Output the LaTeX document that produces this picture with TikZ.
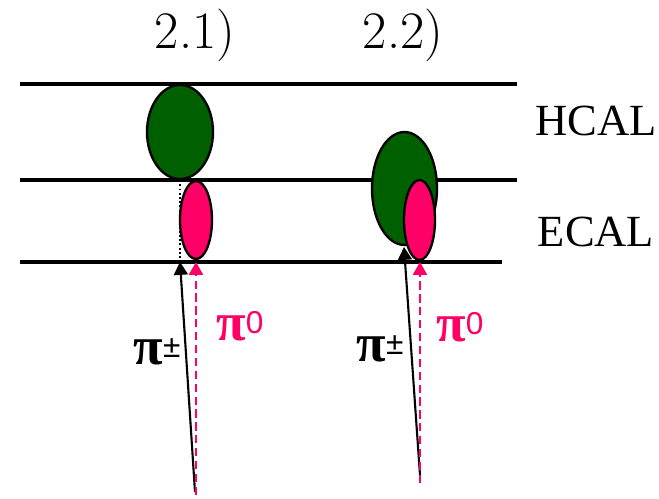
\documentclass[tikz,border=0pt]{standalone}
\usepackage{fontspec}
\newfontfamily\calfont{Liberation Serif}
\newfontfamily\supfont{Liberation Sans}
\usetikzlibrary{arrows.meta,shapes.geometric}
\definecolor{hadgreen}{RGB}{0,96,0}
\definecolor{empink}{RGB}{255,0,102}
\newcommand{\pilabel}[1]{{\calfont\bfseries\fontsize{46}{46}\selectfont π}\raisebox{0.62em}{\supfont\fontsize{27}{27}\selectfont #1}}

\begin{document}
\begin{tikzpicture}[x=0.03cm, y=-0.03cm,
  layer/.style={line width=3pt},
  shower/.style={draw, ellipse, line width=2pt, inner sep=0pt},
  track/.style={line width=1.8pt, -{Triangle[length=11pt,width=12pt]}},
  calname/.style={font=\calfont\fontsize{38}{42}\selectfont},
  casename/.style={font=\fontsize{45}{48}\selectfont}]
  \useasboundingbox (0,0) rectangle (659,499);

  % calorimeter boundaries
  \draw[layer] (20,84) -- (517,84);
  \draw[layer] (20,180) -- (517,180);
  \draw[layer] (20,262) -- (502,262);
  \node[calname] (hcal) at (596,121) {HCAL};
  \node[calname] (ecal) at (596,232) {ECAL};

  % case headers
  \node[casename] (case1) at (195,35) {2.1)};
  \node[casename] (case2) at (403,35) {2.2)};

  % case 2.1: separated showers
  \node[shower, fill=hadgreen, minimum width=1.98cm, minimum height=2.82cm] (had1) at (180,132) {};
  \node[shower, fill=empink, minimum width=0.96cm, minimum height=2.34cm] (em1) at (196,220) {};
  \draw[line width=1.6pt, dotted] (had1.south) -- (180,262);

  % case 2.2: overlapping showers
  \node[shower, fill=hadgreen, minimum width=1.95cm, minimum height=3.39cm] (had2) at (404.5,188.5) {};
  \node[shower, fill=empink, minimum width=0.93cm, minimum height=2.4cm] (em2) at (419.5,220) {};

  % incoming particles
  \coordinate (pipm1 start) at (195,492);
  \coordinate (pipm1 end) at (180,262);
  \coordinate (pizero1 start) at (196,495);
  \coordinate (pizero1 end) at (196,262);
  \coordinate (pipm2 start) at (420,475);
  \coordinate (pipm2 end) at (404,247);
  \coordinate (pizero2 start) at (420,483);
  \coordinate (pizero2 end) at (420,262);

  \draw[track] (pipm1 start) -- (pipm1 end);
  \draw[track, empink, dash pattern=on 7pt off 4pt] (pizero1 start) -- (pizero1 end);
  \draw[track] (pipm2 start) -- (pipm2 end);
  \draw[track, empink, dash pattern=on 7pt off 4pt] (pizero2 start) -- (pizero2 end);

  \node (pipm1 label) at (157,352) {\pilabel{±}};
  \node[empink] (pizero1 label) at (240,326) {\pilabel{0}};
  \node (pipm2 label) at (380,349) {\pilabel{±}};
  \node[empink] (pizero2 label) at (460,327) {\pilabel{0}};
\end{tikzpicture}
\end{document}
